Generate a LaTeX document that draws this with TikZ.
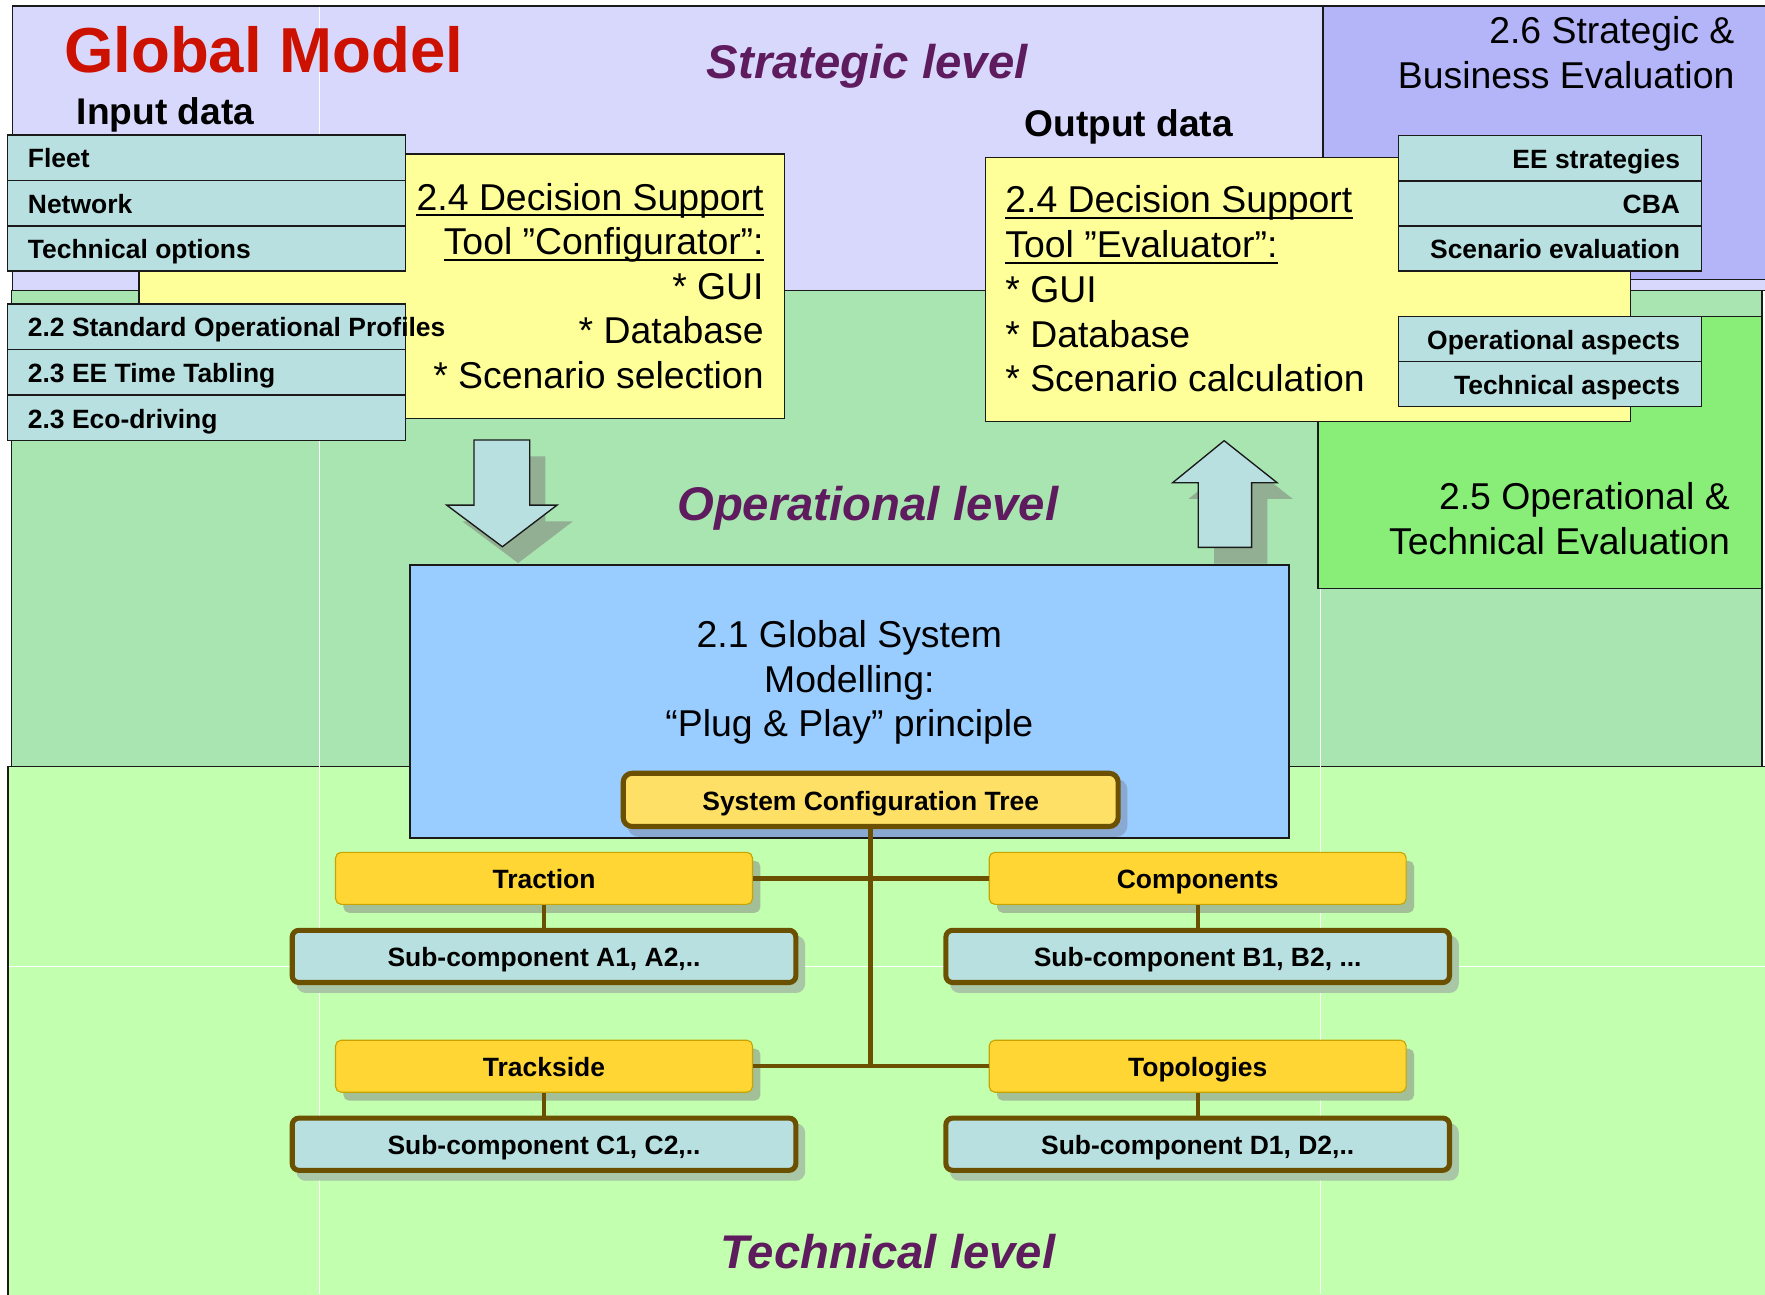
\documentclass[tikz,border=0pt]{standalone}
\usepackage{fontspec}
\setmainfont{Liberation Sans}
\usetikzlibrary{shadows}

\definecolor{lavender}{HTML}{D8D8FC}
\definecolor{bizblue}{HTML}{B4B4F8}
\definecolor{opgreen}{HTML}{A8E5B0}
\definecolor{techgreen}{HTML}{C2FFAE}
\definecolor{evalgreen}{HTML}{88EE77}
\definecolor{datacyan}{HTML}{B9E0E0}
\definecolor{tooly}{HTML}{FFFF99}
\definecolor{modelblue}{HTML}{99CCFF}
\definecolor{treeyellow}{HTML}{FFD633}
\definecolor{rootyellow}{HTML}{FFE066}
\definecolor{treebrown}{HTML}{6B5000}
\definecolor{levelpurple}{HTML}{5E1B5E}
\definecolor{titlered}{HTML}{CC1100}
\definecolor{edge}{HTML}{1A1A1A}
\definecolor{arrowshade}{HTML}{93AF93}
\definecolor{boxshade}{HTML}{A2BF98}
\definecolor{subshade}{HTML}{A9C6A6}
\definecolor{rootshade}{HTML}{8AA9D2}
\definecolor{yellowedge}{HTML}{C9A300}

% fixed-width cells so long labels run past the box instead of wrapping
\newcommand{\leftcell}[1]{\makebox[317.5pt][l]{#1}}
\newcommand{\rightcell}[1]{\makebox[231.2pt][r]{#1}}

\tikzset{
  region/.style={draw=edge, line width=1.3pt},
  seam/.style={draw=white, line width=0.8pt},
  databox/.style={draw=edge, line width=1.3pt, fill=datacyan, inner xsep=18pt, inner ysep=0pt,
    outer sep=0pt, minimum height=40.3pt, text height=23pt, text depth=5pt,
    font=\bfseries\fontsize{23.5}{28}\selectfont, anchor=north west},
  outbox/.style={databox, inner xsep=19pt, minimum height=40.1pt},
  toolbox/.style={draw=edge, line width=1.3pt, fill=tooly, anchor=north west, inner sep=0pt,
    outer sep=0pt},
  bigtext/.style={font=\fontsize{33.2}{40}\selectfont, inner sep=0pt},
  heading/.style={font=\bfseries\fontsize{33}{39}\selectfont, inner sep=0pt, anchor=base west},
  leveltext/.style={font=\bfseries\itshape\fontsize{42}{50}\selectfont, text=levelpurple,
    inner sep=0pt, anchor=base west},
  treelabel/.style={inner sep=0pt, text height=23pt, text depth=5pt,
    font=\bfseries\fontsize{23.5}{28}\selectfont},
  branch/.style={treelabel, draw=yellowedge, line width=1pt, fill=treeyellow, rounded corners=5pt,
    minimum width=370.4pt, minimum height=46.2pt,
    drop shadow={shadow xshift=7pt, shadow yshift=-7.5pt, fill=boxshade, opacity=1}},
  leaf/.style={treelabel, draw=treebrown, line width=4.5pt, fill=datacyan, rounded corners=6pt,
    minimum width=447.4pt, minimum height=46.4pt,
    drop shadow={shadow xshift=6pt, shadow yshift=-7pt, fill=subshade, draw=subshade, opacity=1}},
  root/.style={treelabel, draw=treebrown, line width=4.5pt, fill=rootyellow, rounded corners=8pt,
    minimum width=439.7pt, minimum height=47.3pt,
    drop shadow={shadow xshift=6pt, shadow yshift=-7pt, fill=rootshade, draw=rootshade, opacity=1}},
  tree/.style={draw=treebrown, line width=4pt},
  twig/.style={draw=treebrown, line width=3.6pt},
  blockarrow/.style={draw=edge, line width=1.2pt, fill=datacyan},
  arrowshadow/.style={fill=arrowshade},
  underbar/.style={line width=1.8pt},
  down block/.pic={\path[pic actions] (0,0) -- (49.5,0) -- (49.5,57.8) -- (73.8,57.8)
    -- (25.2,94.8) -- (-24.3,57.8) -- (0,57.8) -- cycle;},
  up block/.pic={\path[pic actions] (0,0) -- (47,37.3) -- (24.4,37.3) -- (24.4,94.8)
    -- (-23,94.8) -- (-23,37.3) -- (-45.7,37.3) -- cycle;},
}

\begin{document}
\begin{tikzpicture}[x=1pt,y=-1pt]
\useasboundingbox (0,0) rectangle (1568,1150);
\fill[white] (0,0) rectangle (1568,1150);

% level bands
\filldraw[region, fill=lavender] (11.3,5.3) rectangle (1600,258.2);
\filldraw[region, fill=bizblue] (1175.5,5.3) rectangle (1600,248.2);
\filldraw[region, fill=opgreen] (10,258.2) rectangle (1565.5,681);
\filldraw[region, fill=techgreen] (7,681) rectangle (1600,1170);
\draw[seam] (284,6.5) -- (284,1150);
\draw[seam] (8,859) -- (1568,859);
\draw[seam] (1173,523) -- (1173,1150);
\filldraw[region, fill=evalgreen] (1171,281.3) rectangle (1565,522.7);

% titles and level names
\node[font=\bfseries\fontsize{56.5}{65}\selectfont, text=titlered, inner sep=0pt, anchor=base west]
  (title) at (56.7,64) {Global Model};
\node[heading] (inhead) at (68,111) {Input data};
\node[heading] (outhead) at (910,121.5) {Output data};
\node[leveltext] (strat) at (627.8,69.6) {Strategic level};
\node[leveltext] (oper) at (601.5,462) {Operational level};
\node[leveltext] (techlvl) at (640,1126.8) {Technical level};

% evaluation areas
\node[bigtext, anchor=base east] (bizA) at (1541,39) {2.6 Strategic \&};
\node[bigtext, anchor=base east] (bizB) at (1541,79) {Business Evaluation};
\node[bigtext, anchor=base east] (opA) at (1537,452.5) {2.5 Operational \&};
\node[bigtext, anchor=base east] (opB) at (1537,493) {Technical Evaluation};

% decision support tools
\node[toolbox, minimum width=573.7pt, minimum height=234.8pt] (config) at (123.3,136.8) {};
\node[toolbox, minimum width=573.1pt, minimum height=234.6pt] (evaluator) at (875.5,140) {};

\node[bigtext, anchor=base east] (cfgA) at (678.6,186.6) {2.4 Decision Support};
\node[bigtext, anchor=base east] (cfgB) at (678.6,226.2) {Tool ”Configurator”:};
\node[bigtext, anchor=base east] (cfgC) at (678.6,265.8) {* GUI};
\node[bigtext, anchor=base east] (cfgD) at (678.6,305.4) {* Database};
\node[bigtext, anchor=base east] (cfgE) at (678.6,345) {* Scenario selection};
\draw[underbar] ([yshift=-4.5pt]cfgA.base west) -- ([yshift=-4.5pt]cfgA.base east);
\draw[underbar] ([yshift=-4.5pt]cfgB.base west) -- ([yshift=-4.5pt]cfgB.base east);

\node[bigtext, anchor=base west] (evaA) at (893,189.2) {2.4 Decision Support};
\node[bigtext, anchor=base west] (evaB) at (893,228.9) {Tool ”Evaluator”:};
\node[bigtext, anchor=base west] (evaC) at (893,268.6) {* GUI};
\node[bigtext, anchor=base west] (evaD) at (893,308.3) {* Database};
\node[bigtext, anchor=base west] (evaE) at (893,348) {* Scenario calculation};
\draw[underbar] ([yshift=-4.5pt]evaA.base west) -- ([yshift=-4.5pt]evaA.base east);
\draw[underbar] ([yshift=-4.5pt]evaB.base west) -- ([yshift=-4.5pt]evaB.base east);

% input data
\node[databox] (fleet) at (6.8,120) {\leftcell{Fleet}};
\node[databox] (network) at (fleet.south west) {\leftcell{Network}};
\node[databox] (techopt) at (network.south west) {\leftcell{Technical options}};
\node[databox, minimum height=40.5pt] (sop) at (6.8,270) {\leftcell{2.2 Standard Operational Profiles}};
\node[databox, minimum height=40.5pt] (timetab) at (sop.south west) {\leftcell{2.3 EE Time Tabling}};
\node[databox, minimum height=40.5pt] (eco) at (timetab.south west) {\leftcell{2.3 Eco-driving}};

% output data
\node[outbox] (eestrat) at (1242.3,120.5) {\rightcell{EE strategies}};
\node[outbox] (cba) at (eestrat.south west) {\rightcell{CBA}};
\node[outbox] (sceneval) at (cba.south west) {\rightcell{Scenario evaluation}};
\node[outbox, minimum height=40pt] (opasp) at (1242.3,281.3) {\rightcell{Operational aspects}};
\node[outbox, minimum height=40pt] (techasp) at (opasp.south west) {\rightcell{Technical aspects}};

% block arrows between levels
\pic[arrowshadow] at (435.1,405.4) {down block};
\pic[blockarrow] at (421.1,390.9) {down block};
\pic[arrowshadow] at (1101.5,406) {up block};
\pic[blockarrow] at (1087.5,391.5) {up block};

% global system model
\node[draw=edge, line width=1.5pt, fill=modelblue, minimum width=780.5pt, minimum height=242.6pt,
  anchor=north west, inner sep=0pt, outer sep=0pt] (model) at (364.5,502) {};
\node[bigtext, anchor=base] (modA) at (754.5,575.6) {2.1 Global System};
\node[bigtext, anchor=base] (modB) at (754.5,615) {Modelling:};
\node[bigtext, anchor=base] (modC) at (754.5,654.4) {“Plug \& Play” principle};

% configuration tree
\node[root] (sct) at (773.5,710.6) {System Configuration Tree};
\node[branch] (traction) at (483.3,780.3) {Traction};
\node[branch] (components) at (1064,780.3) {Components};
\node[branch] (trackside) at (483.3,947.2) {Trackside};
\node[branch] (topologies) at (1064,947.2) {Topologies};
\node[leaf] (subA) at (483.3,849.65) {Sub-component A1, A2,..};
\node[leaf] (subB) at (1064,849.65) {Sub-component B1, B2, ...};
\node[leaf] (subC) at (483.3,1016.5) {Sub-component C1, C2,..};
\node[leaf] (subD) at (1064,1016.5) {Sub-component D1, D2,..};

\draw[tree] (sct.south) -- (sct.south |- trackside.east);
\draw[tree] (traction.east) -- (components.west);
\draw[tree] (trackside.east) -- (topologies.west);
\draw[twig] (traction.south) -- (subA.north);
\draw[twig] (components.south) -- (subB.north);
\draw[twig] (trackside.south) -- (subC.north);
\draw[twig] (topologies.south) -- (subD.north);
\end{tikzpicture}
\end{document}
